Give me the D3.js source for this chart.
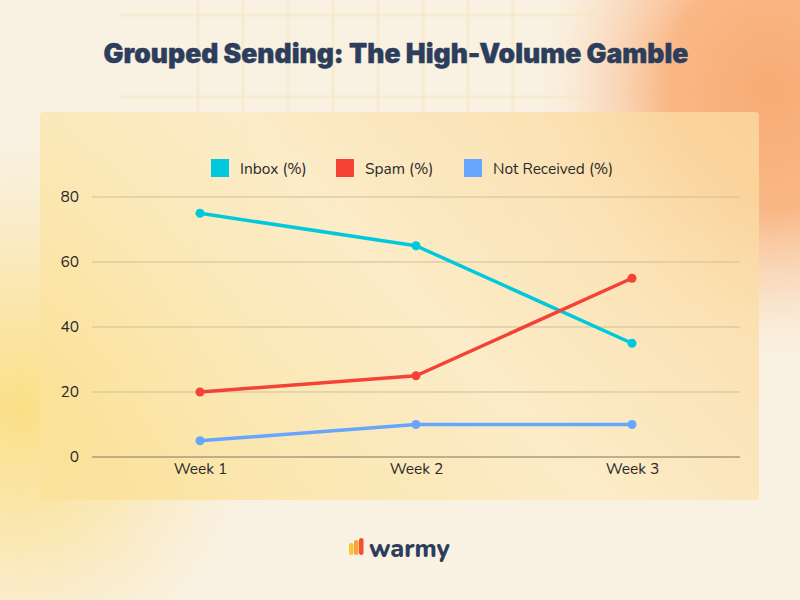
<!DOCTYPE html>
<html><head><meta charset="utf-8">
<script src="https://cdn.jsdelivr.net/npm/d3@7"></script>
<style>html,body{margin:0;padding:0;}svg{display:block;}</style>
</head><body>
<svg id="c" width="800" height="600"></svg>
<script>
const categories = ["Week 1", "Week 2", "Week 3"];
const seriesNames = ["Inbox (%)", "Spam (%)", "Not Received (%)"];
const inbox = [75, 65, 35];
const spam = [20, 25, 55];
const notReceived = [5, 10, 10];
const yTicks = [0, 20, 40, 60, 80];
const colors = ["#00c9dc", "#f44336", "#66a6ff"];
const series = [inbox, spam, notReceived];

const svg = d3.select("#c");
const defs = svg.append("defs");

// background
const g1 = defs.append("radialGradient").attr("id","orange").attr("gradientUnits","userSpaceOnUse")
  .attr("cx",0).attr("cy",0).attr("r",1)
  .attr("gradientTransform","translate(770,90) scale(230,270)");
g1.append("stop").attr("offset",0).attr("stop-color","#f8ab73").attr("stop-opacity",1);
g1.append("stop").attr("offset",0.45).attr("stop-color","#f9b17c").attr("stop-opacity",0.9);
g1.append("stop").attr("offset",0.75).attr("stop-color","#fac9a2").attr("stop-opacity",0.45);
g1.append("stop").attr("offset",1).attr("stop-color","#fbe1c4").attr("stop-opacity",0);
const g2 = defs.append("radialGradient").attr("id","yellow").attr("gradientUnits","userSpaceOnUse")
  .attr("cx",0).attr("cy",0).attr("r",1)
  .attr("gradientTransform","translate(20,410) scale(240,280)");
g2.append("stop").attr("offset",0).attr("stop-color","#fbdf85").attr("stop-opacity",1);
g2.append("stop").attr("offset",0.5).attr("stop-color","#fbe39a").attr("stop-opacity",0.6);
g2.append("stop").attr("offset",1).attr("stop-color","#fbe9b8").attr("stop-opacity",0);
svg.append("rect").attr("width",800).attr("height",600).attr("fill","#f9f1e2");
svg.append("rect").attr("width",800).attr("height",600).attr("fill","url(#yellow)");
svg.append("rect").attr("width",800).attr("height",600).attr("fill","url(#orange)");
// faint window grid
const wg = svg.append("g").attr("stroke","#f7e6c0").attr("stroke-opacity",0.5).attr("stroke-width",3);
d3.range(198, 530, 45).forEach(x => wg.append("line").attr("x1",x).attr("x2",x).attr("y1",0).attr("y2",260));
[15, 97].forEach(y => wg.append("line").attr("x1",120).attr("x2",600).attr("y1",y).attr("y2",y));

// title
svg.append("text").attr("x",396).attr("y",63).attr("text-anchor","middle")
  .attr("font-family","Inter, Roboto, sans-serif").attr("font-weight",900).attr("font-size",26.5)
  .attr("fill","#2c3e5c").attr("stroke","#2c3e5c").attr("stroke-width",0.4)
  .text("Grouped Sending: The High-Volume Gamble");

// panel
const pg = defs.append("linearGradient").attr("id","panel").attr("x1",0).attr("y1",0.7).attr("x2",1).attr("y2",0.2);
pg.append("stop").attr("offset",0).attr("stop-color","#fbe29a");
pg.append("stop").attr("offset",0.5).attr("stop-color","#fcebc3");
pg.append("stop").attr("offset",1).attr("stop-color","#fbd9a0");
svg.append("rect").attr("x",40).attr("y",112).attr("width",719).attr("height",388).attr("rx",4)
  .attr("fill","url(#panel)").attr("fill-opacity",0.85);

const m = {left:92, right:740, top:197, bottom:457};
const x = d3.scalePoint().domain(categories).range([m.left, m.right]).padding(0.5);
const y = d3.scaleLinear().domain([0, 80]).range([m.bottom, m.top]);
const font = "Nunito, 'Noto Sans', Lato, sans-serif";

// grid
const grid = svg.append("g");
grid.selectAll("line").data(yTicks).join("line")
  .attr("x1",m.left).attr("x2",m.right).attr("y1",d=>y(d)).attr("y2",d=>y(d))
  .attr("stroke",d=>d===0?"#a99c7c":"#cdbf98").attr("stroke-width",d=>d===0?1.5:1);

// y axis
const yAxis = svg.append("g").attr("transform",`translate(${m.left},0)`)
  .call(d3.axisLeft(y).tickValues(yTicks).tickSize(0).tickPadding(13));
yAxis.select(".domain").remove();
yAxis.selectAll("text").attr("font-family",font).attr("font-size",15.5).attr("fill","#2a2a2a");

// x axis
const xAxis = svg.append("g").attr("transform",`translate(0,${m.bottom})`)
  .call(d3.axisBottom(x).tickSize(0).tickPadding(6));
xAxis.select(".domain").remove();
xAxis.selectAll("text").attr("font-family",font).attr("font-size",15.5).attr("fill","#2a2a2a");

// lines
const line = d3.line().x((d,i)=>x(categories[i])).y(d=>y(d));
series.forEach((s, k) => {
  svg.append("path").datum(s).attr("d", line).attr("fill","none")
    .attr("stroke", colors[k]).attr("stroke-width",3.5).attr("stroke-linejoin","round");
  svg.append("g").selectAll("circle").data(s).join("circle")
    .attr("cx",(d,i)=>x(categories[i])).attr("cy",d=>y(d)).attr("r",4.5).attr("fill",colors[k]);
});

// legend
const legX = [211, 336, 464];
const leg = svg.append("g");
seriesNames.forEach((n,k) => {
  leg.append("rect").attr("x",legX[k]).attr("y",159).attr("width",18).attr("height",18).attr("fill",colors[k]);
  leg.append("text").attr("x",legX[k]+29).attr("y",173.5).text(n)
    .attr("font-family",font).attr("font-size",15.5).attr("fill","#2a2a2a");
});

// logo
const logo = svg.append("g");
const barCols = ["#fbc23c", "#f9a13a", "#f4502e"];
[[349,543,12],[354,540,15],[359,538,17]].forEach((b,i) => {
  logo.append("rect").attr("x",b[0]).attr("y",b[1]).attr("width",4.5).attr("height",b[2]).attr("rx",2.2).attr("fill",barCols[i]);
});
logo.append("text").attr("x",369).attr("y",557).text("warmy")
  .attr("font-family","Nunito, Lato, 'Noto Sans', sans-serif").attr("font-weight",800).attr("font-size",25)
  .attr("fill","#2c3e5c");
</script>
</body></html>
